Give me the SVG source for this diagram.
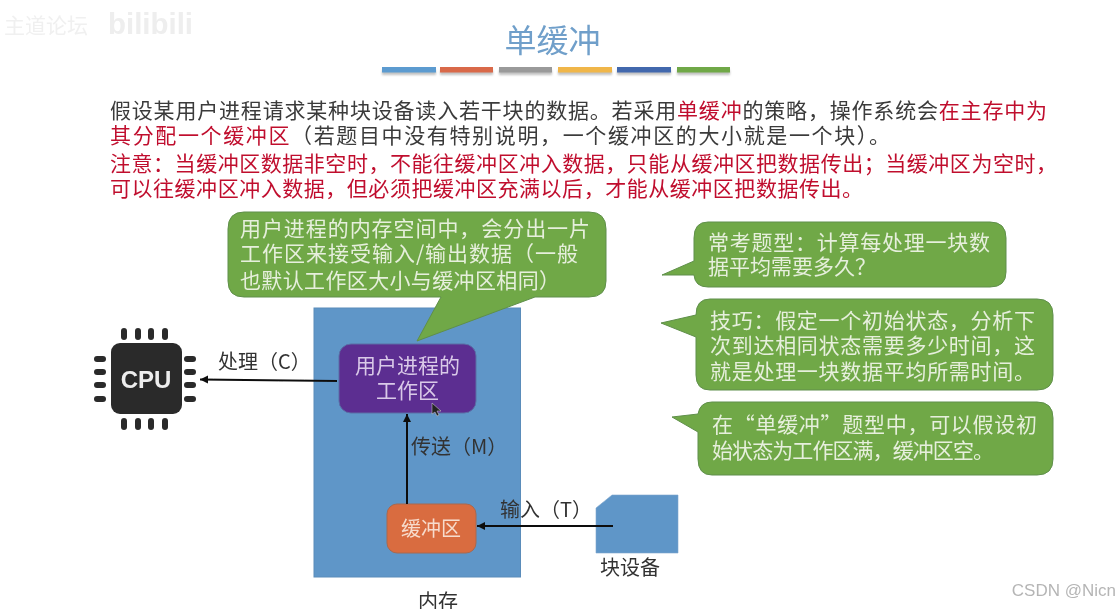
<svg xmlns="http://www.w3.org/2000/svg" width="1120" height="609" viewBox="0 0 1120 609">
<style>
text{font-family:"Noto Sans CJK SC","Liberation Sans",sans-serif}
.body{font-size:21px;fill:#3a3a3a}
.red{fill:#c00f2e}
.w{font-size:21px;fill:#e6efdc}
.lab{font-size:20px;fill:#333}
.g{fill:#70a847;stroke:#5f8f4a;stroke-width:1}
.bar{stroke:none}
.pin{fill:#2b2b2b}
.ln{stroke:#111;stroke-width:2;fill:none;marker-end:url(#a)}
</style>
<defs>
<marker id="a" markerUnits="userSpaceOnUse" markerWidth="10" markerHeight="10" refX="8" refY="4" orient="auto"><path d="M0 0L8 4L0 8z" fill="#111"/></marker>
<filter id="s" x="-10%" y="-50%" width="120%" height="250%"><feGaussianBlur stdDeviation="1.2"/></filter>
<filter id="b" x="-5%" y="-5%" width="110%" height="110%"><feGaussianBlur stdDeviation="0.45"/></filter>
</defs>
<rect width="1120" height="609" fill="#fff"/>
<g filter="url(#b)">
<g id="watermark-top">
<text x="4" y="33" font-size="21" style="fill:#f0f0f0">主道论坛</text>
<text x="74" y="34" font-size="1" style="fill:#f0f0f0"></text>
<text x="108" y="34" font-size="29" font-weight="700" style="font-family:'Liberation Sans',sans-serif;fill:#eeeeee" textLength="85" lengthAdjust="spacingAndGlyphs">bilibili</text>
</g>
<g id="title">
<text x="552.500" y="52" text-anchor="middle" font-size="32" style="fill:#6f9fca">单缓冲</text>
<g filter="url(#s)" fill="#999" opacity=".6">
<rect x="382" y="70" width="54" height="5"/><rect x="440" y="70" width="53" height="5"/><rect x="499" y="70" width="53" height="5"/><rect x="558" y="70" width="54" height="5"/><rect x="617" y="70" width="54" height="5"/><rect x="677" y="70" width="53" height="5"/>
</g>
<rect class="bar" x="382" y="67" width="54" height="5.500" fill="#5b9bd0"/>
<rect class="bar" x="440" y="67" width="53" height="5.500" fill="#d9694a"/>
<rect class="bar" x="499" y="67" width="53" height="5.500" fill="#9a9a9a"/>
<rect class="bar" x="558" y="67" width="54" height="5.500" fill="#f0b648"/>
<rect class="bar" x="617" y="67" width="54" height="5.500" fill="#4268ad"/>
<rect class="bar" x="677" y="67" width="53" height="5.500" fill="#70a847"/>
</g>
<g id="intro">
<text class="body" x="110" y="118" textLength="937">假设某用户进程请求某种块设备读入若干块的数据。若采用<tspan class="red">单缓冲</tspan>的策略，操作系统会<tspan class="red">在主存中为</tspan></text>
<text class="body" x="110" y="143" textLength="780"><tspan class="red">其分配一个缓冲区</tspan>（若题目中没有特别说明，一个缓冲区的大小就是一个块）。</text>
<text class="body red" x="110" y="171" textLength="947">注意：当缓冲区数据非空时，不能往缓冲区冲入数据，只能从缓冲区把数据传出；当缓冲区为空时，</text>
<text class="body red" x="110" y="196" textLength="753">可以往缓冲区冲入数据，但必须把缓冲区充满以后，才能从缓冲区把数据传出。</text>
</g>
<g id="memory">
<rect x="314" y="308" width="206.500" height="269" fill="#5f96c8" stroke="#5a8cba"/>
<text class="lab" x="418" y="609">内存</text>
</g>
<g id="callout-workspace">
<path class="g" d="M244 212H589Q606 212 606 229V281Q606 297 589 297H535L417 341L441 297H244Q228 297 228 281V229Q228 212 244 212Z"/>
<text class="w" x="240" y="236" textLength="350">用户进程的内存空间中，会分出一片</text>
<text class="w" x="240" y="261" textLength="338">工作区来接受输入/输出数据（一般</text>
<text class="w" x="240" y="288" textLength="320">也默认工作区大小与缓冲区相同）</text>
</g>
<g id="cpu">
<rect x="111" y="343" width="71" height="71" rx="9" fill="#2b2b2b"/>
<text x="146" y="388" text-anchor="middle" font-size="24" font-weight="700" style="font-family:'Liberation Sans',sans-serif;fill:#eee">CPU</text>
<g class="pin">
<rect x="121" y="328" width="6" height="12" rx="3"/><rect x="135" y="328" width="6" height="12" rx="3"/><rect x="148" y="328" width="6" height="12" rx="3"/><rect x="162" y="328" width="6" height="12" rx="3"/>
<rect x="121" y="418" width="6" height="12" rx="3"/><rect x="135" y="418" width="6" height="12" rx="3"/><rect x="148" y="418" width="6" height="12" rx="3"/><rect x="162" y="418" width="6" height="12" rx="3"/>
<rect x="94" y="356" width="12" height="6" rx="3"/><rect x="94" y="369" width="12" height="6" rx="3"/><rect x="94" y="382" width="12" height="6" rx="3"/><rect x="94" y="396" width="12" height="6" rx="3"/>
<rect x="184" y="356" width="12" height="6" rx="3"/><rect x="184" y="369" width="12" height="6" rx="3"/><rect x="184" y="382" width="12" height="6" rx="3"/><rect x="184" y="396" width="12" height="6" rx="3"/>
</g>
</g>
<g id="workspace">
<rect x="339" y="344" width="137" height="69" rx="12" fill="#5c2d91" stroke="#5a6ea5"/>
<text x="407.500" y="373" text-anchor="middle" font-size="21" style="fill:#d9c9e8">用户进程的</text>
<text x="407.500" y="398" text-anchor="middle" font-size="21" style="fill:#d9c9e8">工作区</text>
</g>
<g id="buffer">
<rect x="387" y="504" width="89" height="49" rx="10" fill="#d96c40" stroke="#a8694f"/>
<text x="431" y="536" text-anchor="middle" font-size="20" style="fill:#f7dccd">缓冲区</text>
</g>
<g id="device">
<path d="M596 508V553H678V495H612Z" fill="#5f96c8" stroke="#7ea6cc" stroke-width=".6"/>
<text class="lab" x="600" y="575">块设备</text>
</g>
<g id="connectors">
<line class="ln" x1="337" y1="381" x2="200" y2="379.500"/>
<line class="ln" x1="407" y1="504" x2="407" y2="414"/>
<line class="ln" x1="613" y1="526" x2="477" y2="526"/>
</g>
<g id="edge-labels">
<text class="lab" x="218" y="369">处理（C）</text>
<text class="lab" x="411" y="454">传送（M）</text>
<text class="lab" x="500" y="517">输入（T）</text>
</g>
<g id="callout-1">
<path class="g" d="M708 222H990Q1006 222 1006 238V272Q1006 287 990 287H708Q695 287 694 275L662 275L694 261V238Q694 222 708 222Z"/>
<text class="w" x="708" y="250" textLength="282">常考题型：计算每处理一块数</text>
<text class="w" x="708" y="274">据平均需要多久？</text>
</g>
<g id="callout-2">
<path class="g" d="M710 299H1037Q1053 299 1053 315V375Q1053 390 1037 390H710Q696 390 696 375V337L661 323L696 315Q696 299 710 299Z"/>
<text class="w" x="710" y="328" textLength="325">技巧：假定一个初始状态，分析下</text>
<text class="w" x="710" y="353" textLength="325">次到达相同状态需要多少时间，这</text>
<text class="w" x="710" y="379" textLength="325">就是处理一块数据平均所需时间。</text>
</g>
<g id="callout-3">
<path class="g" d="M712 402H1037Q1053 402 1053 418V459Q1053 475 1037 475H712Q698 475 698 459V432L672 417L698 414Q700 402 712 402Z"/>
<text class="w" x="712" y="432" textLength="325">在“单缓冲”题型中，可以假设初</text>
<text class="w" x="712" y="458" textLength="282">始状态为工作区满，缓冲区空。</text>
</g>
<g id="cursor"><path d="M432 403V414L435 412L437 416L439 415L437 411L441 411Z" fill="#222" stroke="#ddd" stroke-width=".5"/></g>
</g>
<text x="1116" y="596" text-anchor="end" font-size="17" style="font-family:'Liberation Sans',sans-serif;fill:#b5b5b5" filter="url(#b)">CSDN @Nicn</text>
</svg>
